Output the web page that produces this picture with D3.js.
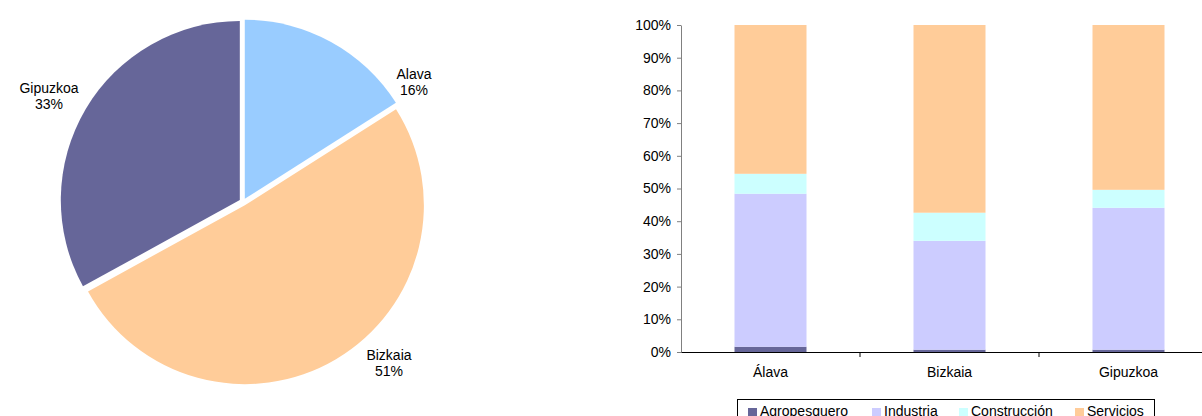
<!DOCTYPE html>
<html><head><meta charset="utf-8">
<script src="https://cdn.jsdelivr.net/npm/d3@7"></script>
<style>body{margin:0;background:#fff}svg{display:block;font-family:"Liberation Sans",Arial,sans-serif}</style>
</head><body><svg id="c" width="1202" height="416"></svg>
<script>
const pieLabels = ["Alava","Bizkaia","Gipuzkoa"];
const pieValues = [16,51,33];
const pieColors = ["#99CCFF","#FFCC99","#666699"];

const categories = ["Álava","Bizkaia","Gipuzkoa"];
const seriesNames = ["Agropesquero","Industria","Construcción","Servicios"];
const agropesquero = [1.6,0.7,0.7];
const industria = [46.8,33.3,43.4];
const construccion = [6.1,8.6,5.5];
const servicios = [45.5,57.4,50.4];
const seriesColors = ["#666699","#CCCCFF","#CCFFFF","#FFCC99"];
const yTicks = [0,10,20,30,40,50,60,70,80,90,100];

const FS = 14;
const svg = d3.select("#c");

// ---- Pie ----
const cx = 243, cy = 202, r = 179, off = 3.7;
const pie = d3.pie().sort(null).value(d=>d)(pieValues);
const arc = d3.arc().innerRadius(0).outerRadius(r);
const gp = svg.append("g").attr("transform",`translate(${cx},${cy})`);
gp.selectAll("path").data(pie).join("path")
  .attr("d",arc)
  .attr("fill",(d,i)=>pieColors[i])
  .attr("transform",d=>{const a=(d.startAngle+d.endAngle)/2;return `translate(${Math.sin(a)*off},${-Math.cos(a)*off})`;});
const labelPos = [[414,79],[389,360],[49,93]];
pieLabels.forEach((l,i)=>{
  const t = svg.append("text").attr("x",labelPos[i][0]).attr("y",labelPos[i][1])
    .attr("text-anchor","middle").attr("font-size",FS).attr("fill","#000");
  t.append("tspan").attr("x",labelPos[i][0]).text(l);
  t.append("tspan").attr("x",labelPos[i][0]).attr("dy",16).text(pieValues[i]+"%");
});

// ---- Stacked bars ----
const x = d3.scaleBand().domain(categories).range([681,1218]).paddingInner(0).paddingOuter(0);
const y = d3.scaleLinear().domain([0,100]).range([352,25]);
const barW = 72;
const rows = categories.map((c,i)=>({cat:c,Agropesquero:agropesquero[i],"Industria":industria[i],"Construcción":construccion[i],"Servicios":servicios[i]}));
const stack = d3.stack().keys(seriesNames)(rows);
const gb = svg.append("g");
stack.forEach((s,si)=>{
  gb.selectAll(null).data(s).join("rect")
    .attr("x",d=>x(d.data.cat)+x.bandwidth()/2-barW/2)
    .attr("width",barW)
    .attr("y",d=>y(d[1]))
    .attr("height",d=>y(d[0])-y(d[1]))
    .attr("fill",seriesColors[si]);
});

// y axis
const ya = svg.append("g").attr("transform","translate(681,0)")
  .call(d3.axisLeft(y).tickValues(yTicks).tickFormat(d=>d+"%").tickSize(4).tickSizeOuter(0));
ya.select(".domain").attr("stroke","#808080");
ya.selectAll(".tick line").attr("stroke","#808080");
ya.selectAll("text").attr("font-size",FS).attr("font-family","Liberation Sans, Arial, sans-serif").attr("fill","#000").attr("x",-10);

// x axis
const xa = svg.append("g").attr("transform","translate(0,352)")
  .call(d3.axisBottom(x).tickSize(0).tickSizeOuter(0));
xa.select(".domain").attr("stroke","#000");
xa.selectAll("text").attr("font-size",FS).attr("font-family","Liberation Sans, Arial, sans-serif").attr("fill","#000").attr("y",25).attr("dy",0);
const bounds = categories.slice(1).map(c=>x(c));
xa.selectAll(".sep").data(bounds).join("line").attr("class","sep")
  .attr("x1",d=>d).attr("x2",d=>d).attr("y1",0).attr("y2",5).attr("stroke","#000");

// legend
const lg = svg.append("g");
lg.append("rect").attr("x",737.5).attr("y",399.5).attr("width",417).attr("height",30)
  .attr("fill","#fff").attr("stroke","#000");
const legX = [748,872,959,1075];
seriesNames.forEach((n,i)=>{
  lg.append("rect").attr("x",legX[i]).attr("y",408).attr("width",9).attr("height",9).attr("fill",seriesColors[i]);
  lg.append("text").attr("x",legX[i]+12).attr("y",416).attr("font-size",FS).attr("fill","#000").text(n);
});
</script></body></html>
